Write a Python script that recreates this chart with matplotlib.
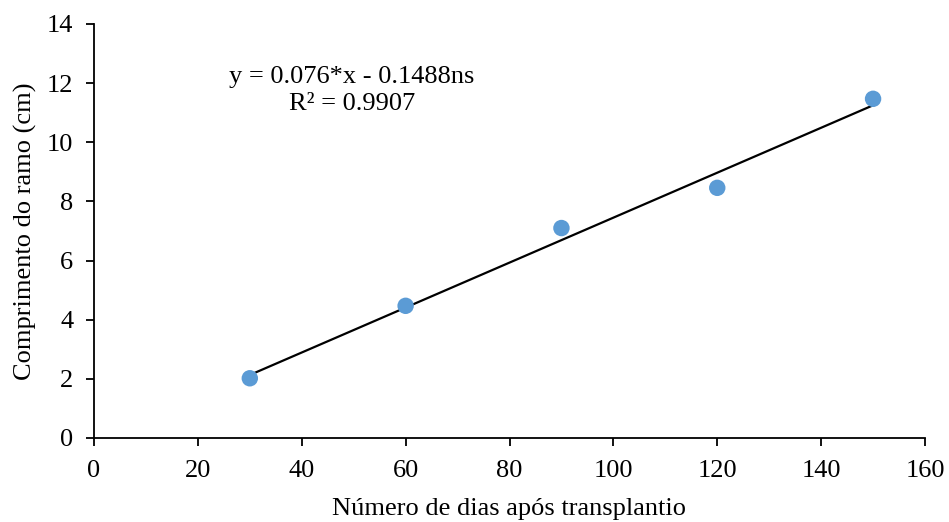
import numpy as np
import matplotlib
matplotlib.use('Agg')
from matplotlib import pyplot as plt

# Data
dias = [30, 60, 90, 120, 150]
comprimento = [2.02, 4.47, 7.1, 8.46, 11.47]
slope = 0.076
intercept = -0.1488
x_ticks = [0, 20, 40, 60, 80, 100, 120, 140, 160]
y_ticks = [0, 2, 4, 6, 8, 10, 12, 14]

plt.rcParams['font.family'] = ['Liberation Serif', 'DejaVu Serif']

fig = plt.figure(figsize=(9.49, 5.22), dpi=100)
ax = fig.add_axes([94 / 949, 84 / 522, 831 / 949, 414 / 522])

# Trend line
xl = np.array([dias[0], dias[-1]])
ax.plot(xl, slope * xl + intercept, color='black', linewidth=1.6, zorder=2)

# Observed points
ax.scatter(dias, comprimento, s=140, color='#5B9BD5', edgecolors='none', zorder=3)

ax.text(49.7, 12.2, 'y = 0.076*x - 0.1488ns', ha='center', va='center', fontsize=19)
ax.text(49.7, 11.3, 'R² = 0.9907', ha='center', va='center', fontsize=19)

ax.set_xlim(0, 160)
ax.set_ylim(0, 14)
ax.set_xticks(x_ticks)
ax.set_yticks(y_ticks)
ax.tick_params(labelsize=19, direction='out', length=6, width=1.3)
ax.tick_params(axis='x', pad=10)
ax.tick_params(axis='y', pad=9)
ax.set_xlabel('Número de dias após transplantio', fontsize=19, labelpad=11)
ax.set_ylabel('Comprimento do ramo (cm)', fontsize=19, labelpad=7)

for side in ['top', 'right']:
    ax.spines[side].set_visible(False)
for side in ['left', 'bottom']:
    ax.spines[side].set_linewidth(1.3)

fig.savefig('out.png', dpi=100)
